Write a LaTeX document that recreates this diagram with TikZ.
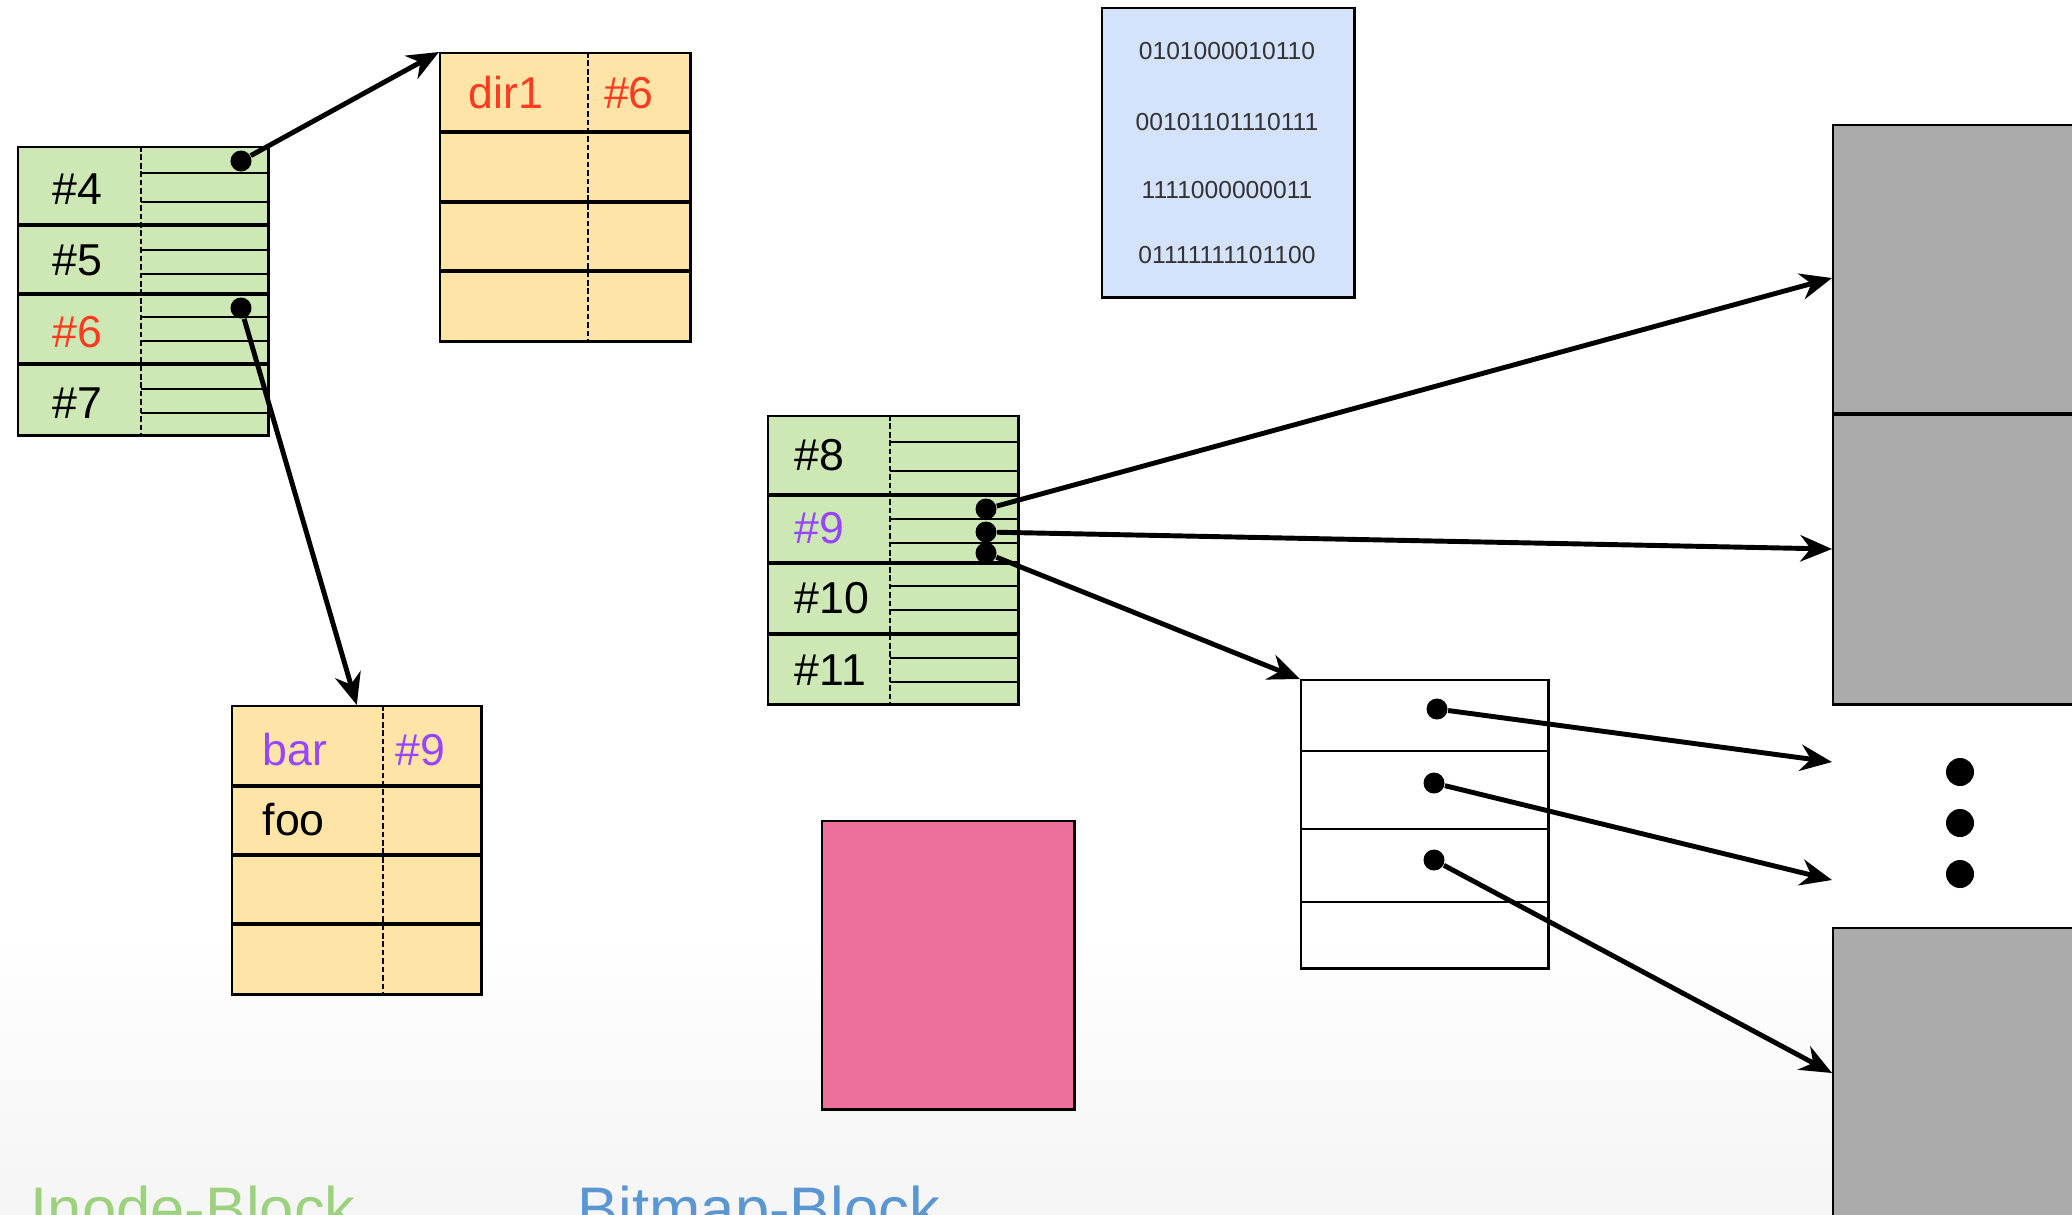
\documentclass[tikz,border=0pt]{standalone}
\usepackage{fontspec}
\setmainfont{Liberation Sans}
\usetikzlibrary{arrows.meta}

\definecolor{inodegreen}{RGB}{205,232,181}
\definecolor{dirorange}{RGB}{255,228,168}
\definecolor{bitmapblue}{RGB}{212,226,252}
\definecolor{datapink}{RGB}{237,111,156}
\definecolor{blockgray}{RGB}{170,170,170}
\definecolor{namered}{RGB}{255,59,31}
\definecolor{namepurple}{RGB}{150,70,255}
\definecolor{labelgreen}{RGB}{156,210,126}
\definecolor{labelblue}{RGB}{90,150,210}

\tikzset{
  blk/.style={draw, line width=0.7pt, anchor=north west, inner sep=0pt,
    minimum width=2.5cm, minimum height=2.88cm},
  rowsep/.style={line width=1.2pt},
  slot/.style={line width=0.55pt},
  split/.style={line width=0.75pt, dash pattern=on 1.6pt off 0.8pt},
  ptr/.style={circle, fill, inner sep=0pt, minimum size=0.21cm},
  link/.style={line width=1.4pt, -{Stealth[length=9pt,width=7.5pt]}},
  num/.style={font=\fontsize{12.7}{15}\selectfont, inner sep=0pt},
  bits/.style={font=\fontsize{7}{8}\selectfont, text=black!80, inner sep=0pt},
  title/.style={font=\fontsize{17.5}{20}\selectfont, anchor=north west, inner sep=0pt},
}

\begin{document}
\begin{tikzpicture}[x=0.01cm, y=-0.01cm]
  \useasboundingbox (0,0) rectangle (2072,1214);
  \clip (0,0) rectangle (2072,1214);
  \shade[top color=white, bottom color=black!4] (0,930) rectangle (2072,1214);

  % inode table #4 - #7
  \node[blk, fill=inodegreen] (inoA) at (17,146) {};
  \foreach \y in {173,202,250,274,317,341,389,413}
    \draw[slot] (141,\y) -- (268,\y);
  \foreach \y in {225,294,364}
    \draw[rowsep] (17,\y) -- (268,\y);
  \draw[split] (141,146) -- (141,436);
  \node[num, anchor=west] (i4) at (52,189) {\#4};
  \node[num, anchor=west] (i5) at (52,260) {\#5};
  \node[num, anchor=west, text=namered] (i6) at (52,332) {\#6};
  \node[num, anchor=west] (i7) at (52,403) {\#7};
  \node[ptr] (pA4) at (241,161) {};
  \node[ptr] (pA6) at (241,308) {};

  % directory block of dir1
  \node[blk, fill=dirorange] (dir) at (439,52) {};
  \foreach \y in {132,202,271}
    \draw[rowsep] (439,\y) -- (690,\y);
  \draw[split] (588,52) -- (588,343);
  \node[num, text=namered] (dname) at (506,93) {dir1};
  \node[num, text=namered] (dnum) at (629,93) {\#6};

  % directory block with bar and foo
  \node[blk, fill=dirorange, minimum width=2.49cm] (bar) at (231,705) {};
  \foreach \y in {786,855,924}
    \draw[rowsep] (231,\y) -- (481,\y);
  \draw[split] (383,705) -- (383,995);
  \node[num, anchor=west, text=namepurple] (bname) at (262,750) {bar};
  \node[num, anchor=west, text=namepurple] (bnum) at (395,750) {\#9};
  \node[num, anchor=west] (fname) at (262,820) {foo};

  % inode table #8 - #11
  \node[blk, fill=inodegreen] (inoB) at (767,415) {};
  \foreach \y in {442,471,519,543,586,610,658,682}
    \draw[slot] (890,\y) -- (1018,\y);
  \foreach \y in {495,563,634}
    \draw[rowsep] (767,\y) -- (1018,\y);
  \draw[split] (890,415) -- (890,705);
  \node[num, anchor=west] (i8) at (794,455) {\#8};
  \node[num, anchor=west, text=namepurple] (i9) at (794,528) {\#9};
  \node[num, anchor=west] (i10) at (794,598) {\#10};
  \node[num, anchor=west] (i11) at (794,670) {\#11};
  \node[ptr] (pB1) at (986,509) {};
  \node[ptr] (pB2) at (986,532) {};
  \node[ptr] (pB3) at (986,553) {};

  % bitmap
  \node[blk, fill=bitmapblue, minimum width=2.52cm, minimum height=2.89cm] (bmap) at (1101,7) {};
  \node[bits] (bits1) at (1227,51) {0101000010110};
  \node[bits] (bits2) at (1227,122) {00101101110111};
  \node[bits] (bits3) at (1227,190) {1111000000011};
  \node[bits] (bits4) at (1227,255) {01111111101100};

  % free data block
  \node[blk, fill=datapink, minimum width=2.52cm] (free) at (821,820) {};

  % indirect block
  \node[blk, minimum width=2.47cm] (ind) at (1300,679) {};
  \foreach \y in {751,829,902}
    \draw[slot] (1300,\y) -- (1548,\y);
  \node[ptr] (pI1) at (1437,709) {};
  \node[ptr] (pI2) at (1434,783) {};
  \node[ptr] (pI3) at (1434,860) {};

  % data blocks
  \node[blk, fill=blockgray, minimum width=3cm, minimum height=2.9cm] (dataA) at (1832,124) {};
  \node[blk, fill=blockgray, minimum width=3cm, minimum height=2.89cm] (dataB) at (1832,414) {};
  \draw[rowsep] (dataB.north west) -- (dataB.north east);
  \node[blk, fill=blockgray, minimum width=3cm, minimum height=3cm] (dataC) at (1832,927) {};
  \foreach \y [count=\i] in {772,823,874}
    \node[ptr, minimum size=0.28cm] (more\i) at (1960,\y) {};

  \coordinate (tA) at (1832,278);
  \coordinate (tB) at (1832,549);
  \coordinate (tC) at (1832,762);
  \coordinate (tD) at (1832,880);
  \coordinate (tE) at (1832,1073);

  \draw[link] (pA4) -- (dir.north west);
  \draw[link] (pA6) -- (bar.north);
  \draw[link] (pB1) -- (tA);
  \draw[link] (pB2) -- (tB);
  \draw[link] (pB3) -- (ind.north west);
  \draw[link] (pI1) -- (tC);
  \draw[link] (pI2) -- (tD);
  \draw[link] (pI3) -- (tE);

  \node[title, text=labelgreen] (inolabel) at (30,1185) {Inode-Block};
  \node[title, text=labelblue] (bmaplabel) at (577,1185) {Bitmap-Block};
\end{tikzpicture}
\end{document}
